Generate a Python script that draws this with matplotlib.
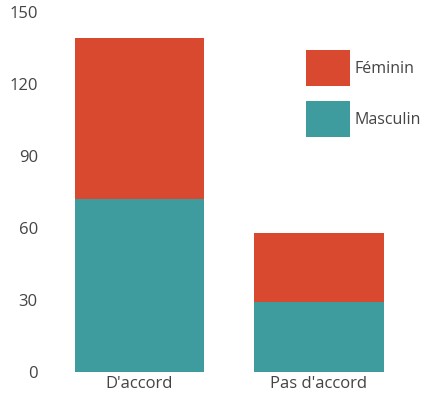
import matplotlib
matplotlib.use('Agg')
import matplotlib.pyplot as plt
import numpy as np

plt.rcParams['font.family'] = ['Open Sans', 'DejaVu Sans']

categories = ["D'accord", "Pas d'accord"]
masculin = [72, 29]
feminin = [67, 29]
yticks = [0, 30, 60, 90, 120, 150]

col_fem = '#D9492F'
col_masc = '#3F9C9E'
txt = '#444444'

fig = plt.figure(figsize=(4.30, 4.01), dpi=100)
# axes in figure fractions: left 60px, right 400px, bottom at y=0 -> 372px
ax = fig.add_axes([60/430, (401-372)/401, 340/430, 360/401])

r = np.arange(len(categories))
ax.bar(r, masculin, width=0.72, color=col_masc, label='Masculin')
ax.bar(r, feminin, width=0.72, bottom=masculin, color=col_fem, label='Féminin')

ax.set_xlim(-79.5/179.5, (400-139.5)/179.5)
ax.set_ylim(0, 150)
ax.set_yticks(yticks)
ax.set_yticklabels([str(t) for t in yticks], size=12, color=txt)
ax.set_xticks(r)
ax.set_xticklabels(categories, size=12, color=txt)
ax.tick_params(length=0, axis='y', pad=16)
ax.tick_params(length=0, axis='x', pad=3)
for s in ax.spines.values():
	s.set_visible(False)

# legend: Féminin above Masculin
h, l = ax.get_legend_handles_labels()
ax.legend(h[::-1], l[::-1], loc='upper left',
		  bbox_to_anchor=(306/430, 1 - 50/401), bbox_transform=fig.transFigure,
		  frameon=False, fontsize=11.5,
		  handlelength=2.75, handleheight=3.1, handletextpad=0.3,
		  labelspacing=0.95, borderaxespad=0, borderpad=0,
		  labelcolor=txt)

fig.savefig('out.png', dpi=100)
